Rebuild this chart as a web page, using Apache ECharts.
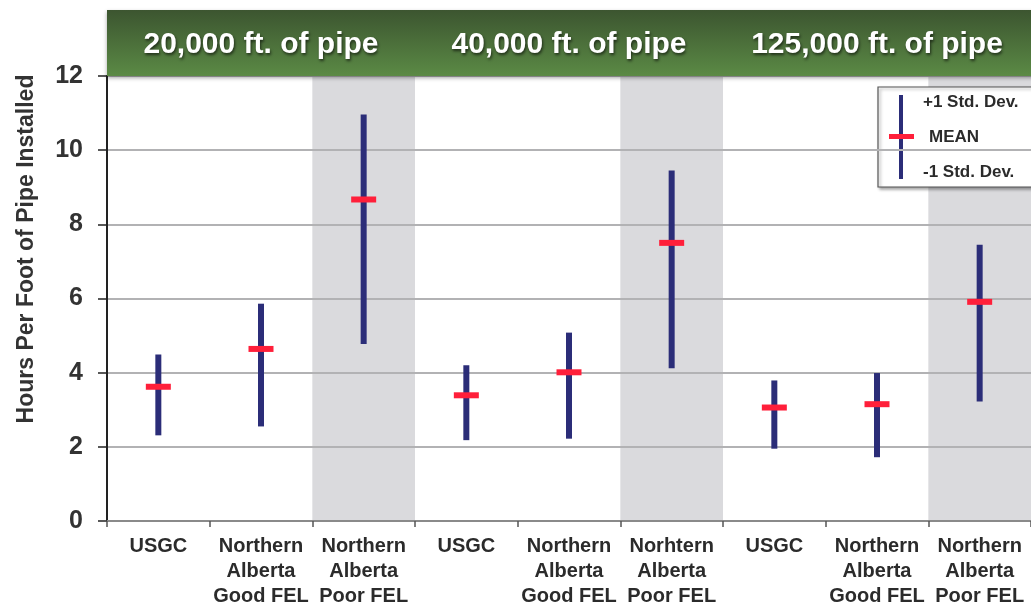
<!DOCTYPE html>
<html>
<head>
<meta charset="utf-8">
<script src="https://cdn.jsdelivr.net/npm/echarts@6/dist/echarts.min.js"></script>
<style>
html,body{margin:0;padding:0;background:#fff;}
#chart{width:1031px;height:609px;}
</style>
</head>
<body>
<div id="chart"></div>
<script>
// ---- data ----
var categories = [
  'USGC', 'Northern\nAlberta\nGood FEL', 'Northern\nAlberta\nPoor FEL',
  'USGC', 'Northern\nAlberta\nGood FEL', 'Norhtern\nAlberta\nPoor FEL',
  'USGC', 'Northern\nAlberta\nGood FEL', 'Northern\nAlberta\nPoor FEL'
];
var meanValues  = [3.62, 4.64, 8.67, 3.39, 4.01, 7.50, 3.06, 3.15, 5.91];
var plusStd     = [4.49, 5.86, 10.96, 4.20, 5.08, 9.45, 3.79, 3.99, 7.45];
var minusStd    = [2.31, 2.55, 4.77, 2.18, 2.22, 4.12, 1.95, 1.72, 3.22];
var shadedCats  = [2, 5, 8];
var groupLabels = ['20,000 ft. of pipe', '40,000 ft. of pipe', '125,000 ft. of pipe'];
var groupRanges = [[0, 2], [3, 5], [6, 8]];
var yTicks = [0, 2, 4, 6, 8, 10, 12];
var yTitle = 'Hours Per Foot of Pipe Installed';
var legendLabels = ['+1 Std. Dev.', 'MEAN', '-1 Std. Dev.'];

var FONT = '"Liberation Sans", Arial, Helvetica, sans-serif';
var BLUE = '#2b2d78';
var RED = '#ff1f3a';
var YMAX = yTicks[yTicks.length - 1];

var chart = echarts.init(document.getElementById('chart'), null, {renderer: 'canvas'});

var errData = categories.map(function (c, i) { return [i, minusStd[i], plusStd[i]]; });
var meanData = categories.map(function (c, i) { return [i, meanValues[i]]; });

var option = {
  backgroundColor: '#ffffff',
  animation: false,
  grid: {left: 107, right: -2, top: 76, bottom: 80, containLabel: false},
  xAxis: {
    type: 'category',
    data: categories,
    boundaryGap: true,
    axisLine: {show: true, lineStyle: {color: '#8a8a8a', width: 2}},
    axisTick: {show: true, length: 6, lineStyle: {color: '#555', width: 1.5}},
    axisLabel: {
      interval: 0, margin: 13, color: '#2b2b2b',
      fontFamily: FONT, fontWeight: 'bold', fontSize: 20, lineHeight: 25, align: 'center'
    },
    splitLine: {show: false}
  },
  yAxis: {
    type: 'value',
    min: 0, max: YMAX, interval: 2,
    axisLine: {show: true, lineStyle: {color: '#222', width: 2}},
    axisTick: {show: true, length: 9, lineStyle: {color: '#222', width: 1.5}},
    axisLabel: {
      margin: 24, color: '#333', fontFamily: FONT, fontWeight: 'bold', fontSize: 25
    },
    splitLine: {show: true, lineStyle: {color: '#b2b2b4', width: 2}}
  },
  graphic: [
    {
      type: 'text', x: 27, y: 249, rotation: Math.PI / 2,
      style: {
        text: yTitle, fill: '#333', font: 'bold 23px ' + FONT,
        align: 'center', verticalAlign: 'middle'
      }
    },
    {
      type: 'group', x: 878, y: 87, z: 100,
      children: [
        {type: 'rect', shape: {x: 0, y: 0, width: 170, height: 100},
         style: {fill: '#fff', stroke: '#555', lineWidth: 1.2,
                 shadowColor: 'rgba(0,0,0,0.35)', shadowBlur: 3, shadowOffsetX: 2, shadowOffsetY: 2}},
        {type: 'line', shape: {x1: 23, y1: 8, x2: 23, y2: 92}, style: {stroke: BLUE, lineWidth: 4}},
        {type: 'rect', shape: {x: 11, y: 47, width: 25, height: 5}, style: {fill: RED}},
        {type: 'text', x: 45, y: 15, style: {text: legendLabels[0], fill: '#2b2b2b', font: 'bold 17px ' + FONT, verticalAlign: 'middle'}},
        {type: 'text', x: 51, y: 50, style: {text: legendLabels[1], fill: '#2b2b2b', font: 'bold 17px ' + FONT, verticalAlign: 'middle'}},
        {type: 'text', x: 45, y: 85, style: {text: legendLabels[2], fill: '#2b2b2b', font: 'bold 17px ' + FONT, verticalAlign: 'middle'}}
      ]
    }
  ],
  series: [
    {
      // shaded category bands
      type: 'custom', z: -1, silent: true,
      data: shadedCats.map(function (i) { return [i]; }),
      renderItem: function (params, api) {
        var idx = api.value(0);
        var top = api.coord([idx, YMAX]);
        var bot = api.coord([idx, 0]);
        var w = api.size([1, 0])[0];
        return {type: 'rect', shape: {x: top[0] - w / 2, y: top[1], width: w, height: bot[1] - top[1]},
                style: {fill: '#dadadd'}};
      }
    },
    {
      // header band
      type: 'custom', z: 10, silent: true, clip: false,
      data: [[groupRanges[0][0], groupRanges[groupRanges.length - 1][1]]],
      renderItem: function (params, api) {
        var a = api.coord([api.value(0), YMAX]);
        var b = api.coord([api.value(1), YMAX]);
        var w = api.size([1, 0])[0];
        var x0 = a[0] - w / 2, x1 = b[0] + w / 2;
        return {
          type: 'rect',
          shape: {x: x0, y: a[1] - 66, width: x1 - x0 + 20, height: 66},
          style: {
            fill: new echarts.graphic.LinearGradient(0, 0, 0, 1, [
              {offset: 0, color: '#3c5530'},
              {offset: 1, color: '#5b8a45'}
            ]),
            shadowColor: 'rgba(0,0,0,0.35)', shadowBlur: 4, shadowOffsetY: 2
          }
        };
      }
    },
    {
      // header labels
      type: 'custom', z: 11, silent: true, clip: false,
      data: groupRanges,
      renderItem: function (params, api) {
        var a = api.coord([api.value(0), YMAX]);
        var b = api.coord([api.value(1), YMAX]);
        return {
          type: 'text',
          x: (a[0] + b[0]) / 2, y: a[1] - 31,
          style: {
            text: groupLabels[params.dataIndex], fill: '#ffffff',
            font: 'bold 30px ' + FONT, align: 'center', verticalAlign: 'middle',
            textShadowColor: 'rgba(0,0,0,0.6)', textShadowBlur: 3, textShadowOffsetX: 1, textShadowOffsetY: 2
          }
        };
      }
    },
    {
      // +/- 1 std dev lines
      type: 'custom', z: 5, silent: true,
      data: errData,
      renderItem: function (params, api) {
        var lo = api.coord([api.value(0), api.value(1)]);
        var hi = api.coord([api.value(0), api.value(2)]);
        return {type: 'line', shape: {x1: lo[0], y1: lo[1], x2: hi[0], y2: hi[1]},
                style: {stroke: BLUE, lineWidth: 6, lineCap: 'butt'}};
      }
    },
    {
      // mean markers
      type: 'scatter', z: 6, silent: true,
      data: meanData,
      symbol: 'rect', symbolSize: [25, 6],
      itemStyle: {color: RED, opacity: 1}
    }
  ]
};
chart.setOption(option);
</script>
</body>
</html>
